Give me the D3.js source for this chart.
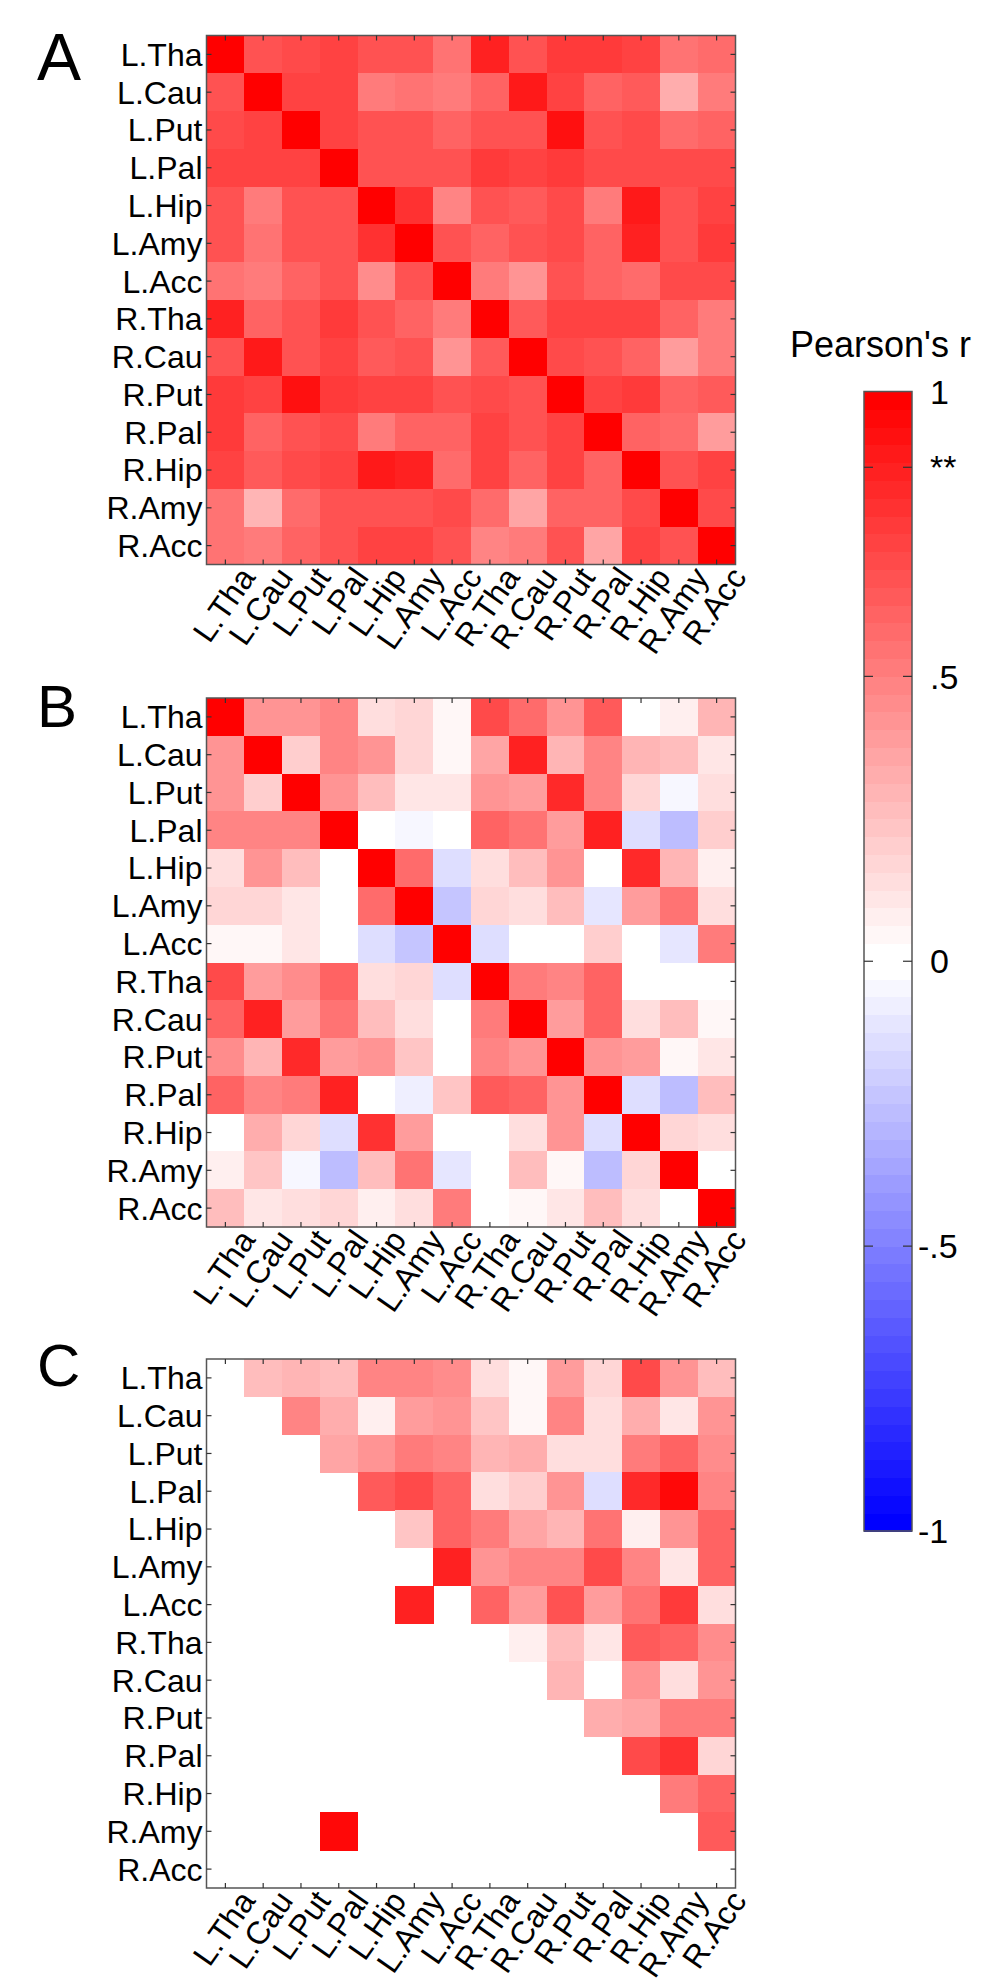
<!DOCTYPE html>
<html>
<head>
<meta charset="utf-8">
<script src="https://cdn.jsdelivr.net/npm/d3@7"></script>
<style>
  body { margin: 0; background: #fff; }
  text { font-family: "Liberation Sans", Arial, sans-serif; fill: #000; }
</style>
</head>
<body>
<div id="chart"></div>
<script>
// regions of interest (rows and columns of every matrix)
const regions = ["L.Tha", "L.Cau", "L.Put", "L.Pal", "L.Hip", "L.Amy", "L.Acc",
                 "R.Tha", "R.Cau", "R.Put", "R.Pal", "R.Hip", "R.Amy", "R.Acc"];

// panel A
const corrA = [
  [1, .68, .70, .73, .66, .68, .55, .85, .66, .76, .76, .72, .55, .58],
  [.68, 1, .72, .74, .53, .56, .50, .60, .90, .72, .60, .64, .33, .52],
  [.70, .72, 1, .74, .68, .66, .60, .68, .68, .92, .66, .70, .58, .60],
  [.73, .74, .74, 1, .66, .66, .66, .77, .72, .75, .70, .70, .70, .70],
  [.66, .53, .68, .66, 1, .80, .47, .66, .64, .70, .53, .88, .68, .72],
  [.68, .56, .66, .66, .80, 1, .66, .60, .66, .70, .62, .86, .68, .75],
  [.55, .50, .60, .66, .45, .66, 1, .52, .42, .66, .62, .58, .70, .70],
  [.85, .60, .68, .77, .66, .60, .52, 1, .64, .72, .74, .72, .60, .50],
  [.66, .90, .68, .72, .64, .66, .42, .64, 1, .70, .66, .60, .38, .52],
  [.76, .72, .92, .77, .72, .72, .66, .70, .68, 1, .74, .78, .60, .64],
  [.76, .60, .66, .70, .53, .62, .60, .74, .68, .74, 1, .60, .58, .38],
  [.72, .64, .70, .72, .88, .86, .58, .72, .62, .74, .60, 1, .68, .72],
  [.55, .31, .58, .68, .68, .68, .70, .58, .36, .62, .60, .70, 1, .70],
  [.56, .52, .60, .66, .72, .74, .68, .48, .50, .66, .37, .72, .68, 1]
];

// panel B
const corrB = [
  [1, .43, .43, .49, .14, .18, .04, .71, .57, .43, .63, 0, .08, .29],
  [.43, 1, .20, .47, .43, .18, .04, .37, .85, .30, .47, .30, .25, .12],
  [.43, .20, 1, .43, .28, .12, .12, .43, .40, .82, .47, .18, -.04, .14],
  [.49, .49, .47, 1, 0, -.04, .03, .62, .55, .40, .86, -.13, -.28, .20],
  [.14, .43, .28, 0, 1, .58, -.13, .14, .28, .42, -.03, .82, .30, .08],
  [.18, .18, .10, -.03, .58, 1, -.24, .18, .15, .25, -.10, .40, .55, .14],
  [.04, .04, .10, .03, -.13, -.24, 1, -.13, .03, -.03, .20, 0, -.10, .50],
  [.70, .38, .45, .62, .14, .18, -.13, 1, .52, .47, .62, 0, 0, 0],
  [.60, .85, .40, .55, .28, .14, .03, .52, 1, .40, .62, .14, .28, .04],
  [.45, .30, .82, .38, .42, .23, -.03, .47, .42, 1, .42, .40, .06, .10],
  [.62, .47, .52, .85, -.03, -.08, .22, .65, .62, .42, 1, -.13, -.26, .28],
  [0, .32, .18, -.13, .80, .40, 0, 0, .14, .42, -.13, 1, .18, .14],
  [.08, .22, -.04, -.28, .28, .55, -.10, 0, .25, .06, -.26, .18, 1, 0],
  [.28, .10, .14, .18, .08, .15, .50, 0, .04, .12, .25, .14, 0, 1]
];

// panel C (null = empty cell)
const n = null;
const corrC = [
  [n, .28, .30, .28, .47, .47, .45, .14, .04, .38, .18, .70, .42, .28],
  [n, n, .48, .32, .08, .40, .43, .22, .04, .47, .14, .32, .10, .42],
  [n, n, n, .35, .42, .52, .48, .30, .33, .14, .14, .52, .62, .46],
  [n, n, n, n, .64, .70, .62, .14, .20, .42, -.14, .82, .95, .47],
  [n, n, n, n, n, .24, .60, .52, .35, .30, .56, .07, .42, .62],
  [n, n, n, n, n, n, .85, .43, .48, .47, .70, .48, .10, .60],
  [n, n, n, n, n, .85, n, .62, .38, .68, .38, .56, .78, .14],
  [n, n, n, n, n, n, n, n, .08, .25, .12, .65, .60, .45],
  [n, n, n, n, n, n, n, n, n, .30, .03, .42, .14, .43],
  [n, n, n, n, n, n, n, n, n, n, .33, .36, .50, .50],
  [n, n, n, n, n, n, n, n, n, n, n, .70, .80, .18],
  [n, n, n, n, n, n, n, n, n, n, n, n, .50, .60],
  [n, n, n, .95, n, n, n, n, n, n, n, n, n, .63],
  [n, n, n, n, n, n, n, n, n, n, n, n, n, n]
];

const panelLetters = ["A", "B", "C"];
const cbTicks = [1, 0.867, 0.5, 0, -0.5, -1];
const cbTickLabels = ["1", "**", ".5", "0", "-.5", "-1"];
const cbTitle = "Pearson's r";

const W = 993, H = 1985;
const svg = d3.select("#chart").append("svg")
  .attr("width", W).attr("height", H);

// 64-step blue-white-red colour map
const nLevels = 64;
const levels = d3.range(nLevels).map(k => {
  if (k < nLevels / 2) {
    const t = k / (nLevels / 2 - 1);
    return d3.rgb(255 * t, 255 * t, 255).formatHex();
  }
  const t = (k - nLevels / 2) / (nLevels / 2 - 1);
  return d3.rgb(255, 255 * (1 - t), 255 * (1 - t)).formatHex();
});
const color = d3.scaleQuantize().domain([-1, 1]).range(levels);

const size = 529;
const x = d3.scaleBand().domain(regions).range([0, size]);
const y = d3.scaleBand().domain(regions).range([0, size]);
const left = 206.5;
const tops = [35.5, 698, 1359];
const letterBase = [80, 727, 1386];
const letterSize = [66, 60, 60];
const datasets = [corrA, corrB, corrC];
const fs = 32;

datasets.forEach((mat, p) => {
  const g = svg.append("g").attr("transform", `translate(${left},${tops[p]})`);

  const cells = [];
  mat.forEach((row, i) => row.forEach((v, j) => {
    if (v !== null) cells.push({ r: regions[i], c: regions[j], v });
  }));

  g.selectAll("rect.cell").data(cells).join("rect")
    .attr("class", "cell")
    .attr("x", d => x(d.c))
    .attr("y", d => y(d.r))
    .attr("width", x.bandwidth() + 0.5)
    .attr("height", y.bandwidth() + 0.5)
    .attr("fill", d => color(d.v))
    .attr("shape-rendering", "crispEdges");

  // frame
  g.append("rect")
    .attr("width", size).attr("height", size)
    .attr("fill", "none").attr("stroke", "#555").attr("stroke-width", 1.5);

  // inward ticks on every side
  const tl = 5;
  regions.forEach(r => {
    const cx = x(r) + x.bandwidth() / 2;
    const cy = y(r) + y.bandwidth() / 2;
    g.append("line").attr("x1", cx).attr("x2", cx).attr("y1", 0).attr("y2", tl);
    g.append("line").attr("x1", cx).attr("x2", cx).attr("y1", size).attr("y2", size - tl);
    g.append("line").attr("y1", cy).attr("y2", cy).attr("x1", 0).attr("x2", tl);
    g.append("line").attr("y1", cy).attr("y2", cy).attr("x1", size).attr("x2", size - tl);
  });
  g.selectAll("line").attr("stroke", "#333").attr("stroke-width", 1.2);

  // row labels
  g.selectAll("text.row").data(regions).join("text")
    .attr("class", "row")
    .attr("x", -4)
    .attr("y", d => y(d) + y.bandwidth() / 2 + fs * 0.358)
    .attr("text-anchor", "end")
    .attr("font-size", fs)
    .text(d => d);

  // rotated column labels
  g.selectAll("text.col").data(regions).join("text")
    .attr("class", "col")
    .attr("text-anchor", "end")
    .attr("font-size", fs)
    .attr("transform", d => `translate(${x(d) + x.bandwidth() / 2 + 31},${size + 13}) rotate(-55)`)
    .text(d => d);

  svg.append("text")
    .attr("x", 37).attr("y", letterBase[p])
    .attr("font-size", letterSize[p])
    .text(panelLetters[p]);
});

// colour bar
const cbX = 864, cbW = 48;
const cb = d3.scaleLinear().domain([-1, 1]).range([1531, 391.5]);
const step = 2 / nLevels;
svg.append("g").selectAll("rect").data(levels).join("rect")
  .attr("x", cbX)
  .attr("y", (d, k) => cb(-1 + (k + 1) * step))
  .attr("width", cbW)
  .attr("height", (d, k) => cb(-1 + k * step) - cb(-1 + (k + 1) * step) + 0.5)
  .attr("fill", d => d)
  .attr("shape-rendering", "crispEdges");
svg.append("rect")
  .attr("x", cbX).attr("y", cb(1))
  .attr("width", cbW).attr("height", cb(-1) - cb(1))
  .attr("fill", "none").attr("stroke", "#555").attr("stroke-width", 1.5);

cbTicks.forEach((t, i) => {
  if (Math.abs(t) < 1) {
    svg.append("line").attr("x1", cbX).attr("x2", cbX + 9)
      .attr("y1", cb(t)).attr("y2", cb(t)).attr("stroke", "#333").attr("stroke-width", 1.2);
    svg.append("line").attr("x1", cbX + cbW).attr("x2", cbX + cbW - 9)
      .attr("y1", cb(t)).attr("y2", cb(t)).attr("stroke", "#333").attr("stroke-width", 1.2);
  }
  svg.append("text")
    .attr("x", t < 0 ? 918 : 930)
    .attr("y", cb(t) + 34 * 0.358)
    .attr("font-size", 34)
    .text(cbTickLabels[i]);
});

svg.append("text")
  .attr("x", 790).attr("y", 357)
  .attr("font-size", 36)
  .text(cbTitle);
</script>
</body>
</html>
